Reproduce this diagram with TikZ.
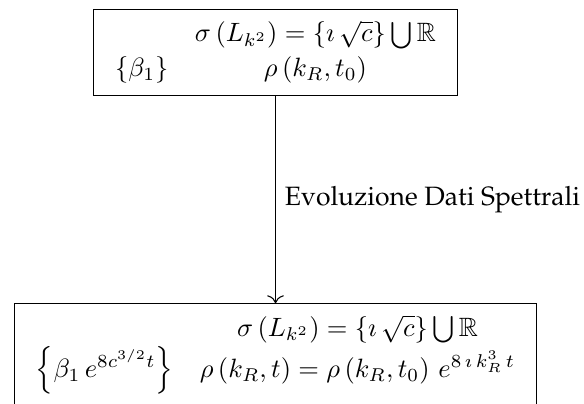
\documentclass[tikz,border=0pt]{standalone}
\usepackage[T1]{fontenc}
\renewcommand{\rmdefault}{ppl}
\usepackage{amssymb}
\usetikzlibrary{arrows.meta, positioning}
\renewcommand{\arraystretch}{1.1}
\tikzset{
  box/.style  = {draw, inner xsep=3pt, inner ysep=3pt},
  arr/.style  = {-{To[length=3pt]}},
  labl/.style = {font=\normalsize},
}

\begin{document}
\begin{tikzpicture}[node distance=2.75cm]

  % --- frame ---
  \useasboundingbox (-3.654,0.119) rectangle (4.091,-5.226);

  % --- initial spectral data ---
  \node[box, anchor=north] (init) at (0,0)
        {$\begin{array}{cc}
           & \sigma\left(L_{k^2}\right)=\left\{\imath\,\sqrt{c}\right\}\bigcup\mathbb{R}\\
           \left\{\beta_1\right\} & \rho\left(k_R,t_0\right)
         \end{array}$};

  % --- evolved spectral data ---
  \node[box, text depth=16pt, below=of init] (evol)
        {$\begin{array}{cc}
           & \sigma\left(L_{k^2}\right)=\left\{\imath\,\sqrt{c}\right\}\bigcup\mathbb{R}\\
           \left\{\beta_1\,e^{8c^{3/2}t}\right\} & \rho\left(k_R,t\right)=\rho\left(k_R,t_0\right)\,e^{8\,\imath\,k_R^3\,t}
         \end{array}$};

  % --- arrow ---
  \draw[arr] (init) -- node[labl, right]{Evoluzione Dati Spettrali} (evol);

\end{tikzpicture}
\end{document}
